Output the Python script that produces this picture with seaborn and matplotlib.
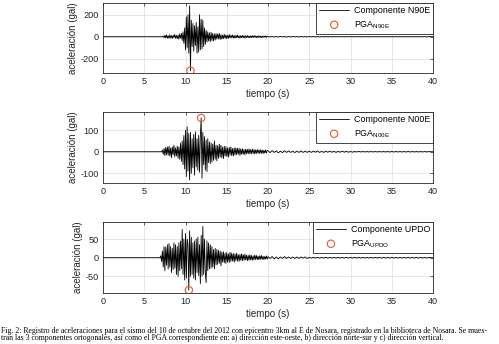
import numpy as np
import pandas as pd
import matplotlib
matplotlib.use("Agg")
import matplotlib.pyplot as plt
import seaborn as sns

# ---------------- data ----------------
components = ["N90E", "N00E", "UPDO"]

# strong-motion part: samples every 0.1 s from 7.0 s to 19.9 s
n90e_strong = [
    0, 0, 0, 6, -9, 14, -11, 16, -13, 9,
    -15, 18, -12, 10, -17, 14, -9, 20, -16, 12,
    -18, 15, -22, 25, -14, 30, -35, 45, -60, 80,
    -120, 180, -100, 200, -150, 280, -310, 150, -90, 120,
    -130, 100, -80, 130, -150, 90, -140, 200, -120, 160,
    -110, 150, -90, 80, -70, 60, -50, 45, -40, 35,
    -45, 40, -35, 30, -38, 25, -30, 28, -22, 25,
    -20, 30, -25, 18, -22, 15, -18, 20, -14, 16,
    -18, 12, -15, 20, -12, 14, -10, 16, -12, 10,
    -14, 12, -9, 15, -11, 8, -13, 10, -8, 12,
    -10, 9, -12, 8, -7, 11, -9, 7, -10, 8,
    -8, 10, -7, 9, -6, 8, -9, 6, -7, 8,
    -6, 7, -8, 5, -7, 6, -5, 8, -6, 5,
]
n00e_strong = [
    0, 0, 8, -12, 15, -18, 20, -14, 22, -16,
    25, -20, 18, -28, 22, -15, 30, -24, 18, -20,
    26, -30, 22, -35, 40, -45, 50, -60, 75, -80,
    100, -115, 115, -90, 85, -130, 90, -100, 60, -75,
    80, -108, 92, -70, 60, -85, 75, -95, 70, 156,
    -123, 90, -60, 70, -85, 55, -92, 60, -50, 45,
    -55, 40, -48, 35, -40, 50, -35, 30, -42, 28,
    -30, 35, -25, 30, -28, 22, -32, 25, -20, 24,
    -22, 18, -25, 20, -16, 22, -18, 15, -20, 17,
    -15, 18, -14, 16, -12, 15, -17, 13, -12, 14,
    -12, 10, -14, 12, -9, 11, -10, 13, -9, 10,
    -10, 12, -8, 10, -11, 9, -8, 10, -7, 9,
    -8, 9, -7, 8, -9, 7, -6, 8, -7, 6,
]
updo_strong = [
    5, -10, 18, -25, 30, -35, 28, -20, 35, -30,
    38, -25, 30, -40, 25, -32, 40, -28, 35, -45,
    30, -50, 40, -35, 45, -30, 76, -45, 50, -60,
    65, -55, 50, 35, -87, 72, -50, 55, -45, 40,
    -55, 45, -60, 50, -40, 55, -48, 35, -70, 60,
    -50, 84, -45, 50, -40, -67, 45, -35, 40, -30,
    35, -28, 30, -25, 22, -30, 25, -20, 22, -18,
    20, -15, 18, -22, 15, -12, 16, -14, 12, -15,
    14, -12, 10, -13, 15, -10, 12, -9, 11, -12,
    10, -8, 12, -9, 8, -10, 9, -7, 10, -8,
    8, -7, 9, -6, 7, -8, 6, -7, 8, -6,
    6, -7, 5, -6, 7, -5, 6, -5, 4, -6,
    5, -4, 6, -5, 4, -5, 3, -4, 5, -4,
]

# coda: samples every 0.25 s from 20.0 s to 39.75 s
n90e_tail = [
    3, -2, 3, -3, 2, -3, 3, -2, 2, -3, 2, -2, 3, -2, 2, -2, 2, -2, 2, -2,
    2, -1, 2, -2, 1, -2, 1, -1, 2, -1, 1, -1, 2, -1, 1, -1, 1, -1, 1, -1,
    1, -1, 1, -1, 1, -1, 1, -1, 1, -1, 1, -1, 1, -1, 1, -1, 1, -1, 1, -1,
    1, -1, 1, -1, 1, -1, 1, -1, 1, -1, 1, -1, 1, -1, 1, -1, 1, -1, 1, 0,
]
n00e_tail = [
    5, -4, 5, -3, 4, -5, 3, -4, 5, -3, 4, -3, 3, -4, 3, -3, 4, -3, 3, -3,
    3, -3, 3, -2, 3, -3, 2, -3, 3, -2, 3, -2, 2, -3, 2, -2, 3, -2, 2, -2,
    1, -2, 1, -1, 2, -1, 1, -1, 1, -1, 1, -1, 1, -1, 1, -1, 1, -1, 1, -1,
    1, -1, 1, -1, 1, -1, 1, -1, 1, -1, 1, -1, 1, -1, 1, -1, 1, -1, 1, 0,
]
updo_tail = [
    3, -2, 3, -3, 2, -3, 2, -2, 3, -2, 2, -2, 2, -2, 2, -2, 2, -1, 2, -2,
    1, -1, 1, -1, 1, -1, 1, -1, 1, -1, 1, -1, 1, -1, 1, -1, 1, -1, 1, -1,
    1, -1, 1, -1, 1, -1, 1, -1, 1, -1, 1, -1, 1, -1, 1, -1, 1, -1, 1, -1,
    1, -1, 1, -1, 1, -1, 1, -1, 1, -1, 1, -1, 1, -1, 1, -1, 1, -1, 1, 0,
]

strong = {"N90E": n90e_strong, "N00E": n00e_strong, "UPDO": updo_strong}
tails = {"N90E": n90e_tail, "N00E": n00e_tail, "UPDO": updo_tail}
ylims = {"N90E": (-333, 304), "N00E": (-143, 182), "UPDO": (-94, 95)}
yticks = {"N90E": [-200, 0, 200], "N00E": [-100, 0, 100], "UPDO": [-50, 0, 50]}
xticks = [0, 5, 10, 15, 20, 25, 30, 35, 40]

caption1 = ("Fig. 2: Registro de aceleraciones para el sismo del 10 de octubre del 2012 con epicentro 3km al E de Nosara, "
            "registrado en la biblioteca de Nosara. Se mues-")
caption2 = ("tran las 3 componentes ortogonales, así como el PGA correspondiente en: a) dirección este-oeste, "
            "b) dirección norte-sur y c) dirección vertical.")

# ---------------- style ----------------
sns.set_theme(style="whitegrid")
plt.rcParams.update({
    "font.family": ["Liberation Sans", "DejaVu Sans"],
    "axes.unicode_minus": False,
    "axes.edgecolor": "#262626",
    "axes.linewidth": 0.6,
    "grid.color": "#e3e3e3",
    "grid.linewidth": 0.6,
    "xtick.color": "#262626",
    "ytick.color": "#262626",
    "xtick.direction": "in",
    "ytick.direction": "in",
    "xtick.major.size": 2.5,
    "ytick.major.size": 2.5,
    "xtick.major.width": 0.5,
    "ytick.major.width": 0.5,
    "xtick.labelsize": 6.6,
    "ytick.labelsize": 6.6,
    "axes.labelsize": 7.0,
    "axes.labelcolor": "#262626",
})

fig = plt.figure(figsize=(4.99, 3.44), dpi=100)
tops = [3.3, 112.3, 222.3]
bots = [73.3, 182.7, 292.7]
L, R, H = 103, 433, 344.0
pga_color = "#e2582f"

for comp, top, bot in zip(components, tops, bots):
    ax = fig.add_axes([L / 499, 1 - bot / H, (R - L) / 499, (bot - top) / H])
    s = strong[comp]
    tl = tails[comp]
    t = np.concatenate([[0.0, 6.9], 7.0 + 0.1 * np.arange(len(s)),
                        20.0 + 0.25 * np.arange(len(tl)), [40.0]])
    a = np.concatenate([[0.0, 0.0], s, tl, [0.0]])
    df = pd.DataFrame({"t": t, "a": a})
    sns.lineplot(data=df, x="t", y="a", ax=ax, color="black", linewidth=0.6,
                 estimator=None, sort=False, label=f"Componente {comp}")
    i = int(np.argmax(np.abs(a)))
    pga = pd.DataFrame({"t": [t[i]], "a": [a[i]]})
    sns.scatterplot(data=pga, x="t", y="a", ax=ax, marker="o", s=28,
                    facecolors="none", edgecolor=pga_color, linewidth=0.8,
                    label=r"PGA$_{\mathregular{" + comp + "}}$", zorder=5)
    ax.set_xlim(0, 40)
    ax.set_ylim(*ylims[comp])
    ax.set_xticks(xticks)
    ax.set_yticks(yticks[comp])
    ax.tick_params(top=True, right=True, labeltop=False, labelright=False, pad=3)
    ax.set_xlabel("tiempo (s)", labelpad=2)
    ax.set_ylabel("aceleración (gal)", labelpad=2)
    for sp in ax.spines.values():
        sp.set_visible(True)
        sp.set_color("#262626")
    leg = ax.legend(loc="upper right", borderaxespad=0, fancybox=False,
                    edgecolor="#262626", framealpha=1, fontsize=6.4,
                    handlelength=3.4, handletextpad=0.5, borderpad=0.35,
                    labelspacing=0.3)
    leg.get_frame().set_linewidth(0.6)
    for txt in leg.get_texts():
        txt.set_color("black")

fig.text(0.002, 1 - 331 / H, caption1, family=["Liberation Serif", "DejaVu Serif"],
         fontsize=5.62, va="center", ha="left", color="black")
fig.text(0.002, 1 - 338.5 / H, caption2, family=["Liberation Serif", "DejaVu Serif"],
         fontsize=5.62, va="center", ha="left", color="black")

fig.savefig("out.png", dpi=100)
